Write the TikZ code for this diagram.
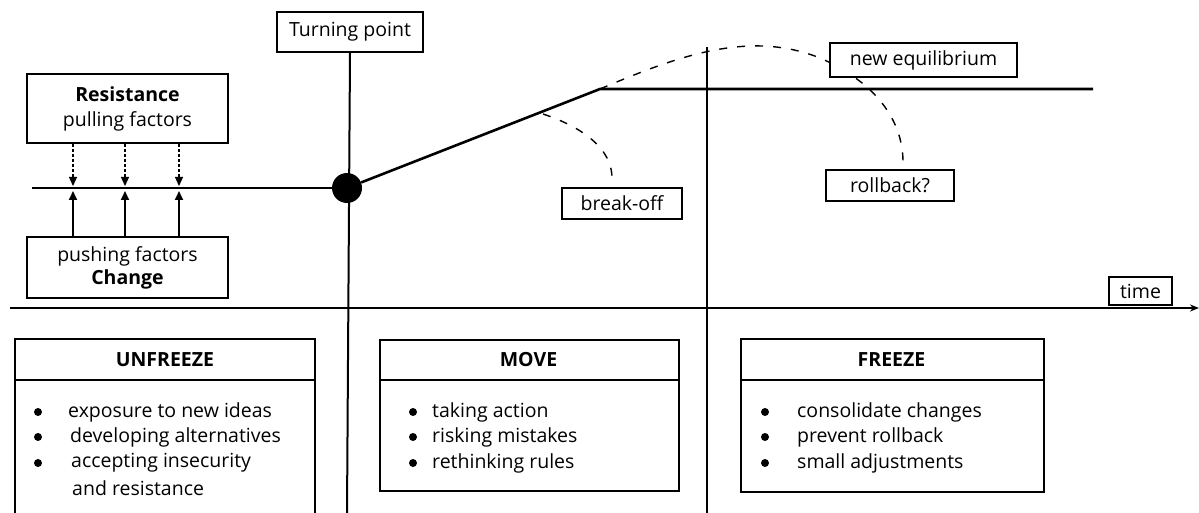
\documentclass[tikz,border=0pt]{standalone}
\usepackage{fontspec}
\setmainfont{Open Sans}
\usetikzlibrary{arrows.meta}
\begin{document}
\begin{tikzpicture}[x=1pt,y=-1pt,
  font=\fontsize{19.5}{25}\selectfont,
  box/.style={draw, line width=2pt, fill=white, inner sep=0pt},
  lbl/.style={inner sep=0pt, anchor=west},
  bul/.style={circle, fill, inner sep=0pt, minimum size=8pt},
  mainline/.style={line width=2.6pt},
  axisline/.style={line width=2pt},
  dsh/.style={line width=1.4pt, dash pattern=on 8pt off 10pt},
  darr/.style={line width=1.2pt, dash pattern=on 3pt off 2pt, -{Triangle[length=9pt,width=8pt]}},
  uarr/.style={line width=1.8pt, -{Triangle[length=9pt,width=8pt]}},
  ]
\useasboundingbox (0,0) rectangle (1199,513);

% coordinates
\coordinate (b0) at (32,188);
\coordinate (k) at (600,89);
\coordinate (eqend) at (1093,89);
\coordinate (v1b) at (347,513);
\coordinate (v2t) at (707,47);
\coordinate (v2b) at (707,513);
\coordinate (t0) at (10,308);
\coordinate (t1) at (1199,308);
\coordinate (bo0) at (543,114);
\coordinate (bo1) at (612,178);
\coordinate (rb1) at (903,162);
\coordinate (a1) at (73,186);
\coordinate (a2) at (125,186);
\coordinate (a3) at (179,186);
\coordinate (u1) at (73,191);
\coordinate (u2) at (125,191);
\coordinate (u3) at (179,191);

% axes and vertical lines
\draw[axisline,-{Stealth[length=9pt,width=7pt]}] (t0) -- (t1);
\node[box, minimum width=146, minimum height=40] (tp) at (350,32) {Turning point};
\draw[axisline] (tp.south) -- (v1b);
\draw[axisline] (v2t) -- (v2b);

% dashed alternative curves
\draw[dsh] (bo0) .. controls (585,128) and (612,150) .. (bo1);
\draw[dsh] (k) .. controls (680,55) and (750,30) .. (820,58)
  .. controls (875,82) and (903,120) .. (rb1);

% main curve
\node[circle, fill, minimum size=30pt, inner sep=0pt] (dot) at (347,188) {};
\draw[mainline] (b0) -- (dot);
\draw[mainline] (dot) -- (k) -- (eqend);

% labels
\node[box, minimum width=187, minimum height=34] (neq) at (923.5,60) {new equilibrium};
\node[box, minimum width=128, minimum height=31] (rb) at (890,185.5) {rollback?};
\node[box, minimum width=120, minimum height=31] (brk) at (622,203.5) {break-off};
\node[box, minimum width=63, minimum height=28] (time) at (1140.5,291) {time};

% force boxes
\node[box, minimum width=201, minimum height=69, align=center] (res) at (127.5,108.5)
  {\textbf{Resistance}\\pulling factors};
\node[box, minimum width=201, minimum height=61, align=center, font=\fontsize{19.5}{23}\selectfont] (push) at (127.5,267.5)
  {pushing factors\\\textbf{Change}};
\draw[darr] (res.south -| a1) -- (a1);
\draw[darr] (res.south -| a2) -- (a2);
\draw[darr] (res.south -| a3) -- (a3);
\draw[uarr] (push.north -| u1) -- (u1);
\draw[uarr] (push.north -| u2) -- (u2);
\draw[uarr] (push.north -| u3) -- (u3);

% UNFREEZE
\draw[axisline] (15,513) |- (315,339) -- (315,513);
\draw[axisline] (15,380) -- (315,380);
\node[inner sep=0pt] (unfT) at (165,360) {\textbf{UNFREEZE}};
\node[bul] (ub1) at (38,412) {};
\node[bul] (ub2) at (38,437) {};
\node[bul] (ub3) at (38,463) {};
\node[lbl] (ut1) at (68,412) {exposure to new ideas};
\node[lbl] (ut2) at (70,437) {developing alternatives};
\node[lbl] (ut3) at (71,463) {accepting insecurity};
\node[lbl] (ut4) at (72,488) {and resistance};

% MOVE
\node[box, anchor=north west, minimum width=299, minimum height=151] (mv) at (379,339) {};
\draw[axisline] ([yshift=-41pt]mv.north west) -- ([yshift=-41pt]mv.north east);
\node[inner sep=0pt] (mvT) at (528.5,360) {\textbf{MOVE}};
\node[bul] (mb1) at (413,412) {};
\node[bul] (mb2) at (413,437) {};
\node[bul] (mb3) at (413,463) {};
\node[lbl] (mt1) at (432,412) {taking action};
\node[lbl] (mt2) at (432,437) {risking mistakes};
\node[lbl] (mt3) at (432,463) {rethinking rules};

% FREEZE
\node[box, anchor=north west, minimum width=303, minimum height=153] (fr) at (740,338) {};
\draw[axisline] ([yshift=-42pt]fr.north west) -- ([yshift=-42pt]fr.north east);
\node[inner sep=0pt] (frT) at (891.5,360) {\textbf{FREEZE}};
\node[bul] (fb1) at (765,412) {};
\node[bul] (fb2) at (765,437) {};
\node[bul] (fb3) at (765,463) {};
\node[lbl] (ft1) at (797,412) {consolidate changes};
\node[lbl] (ft2) at (797,437) {prevent rollback};
\node[lbl] (ft3) at (797,463) {small adjustments};
\end{tikzpicture}
\end{document}
